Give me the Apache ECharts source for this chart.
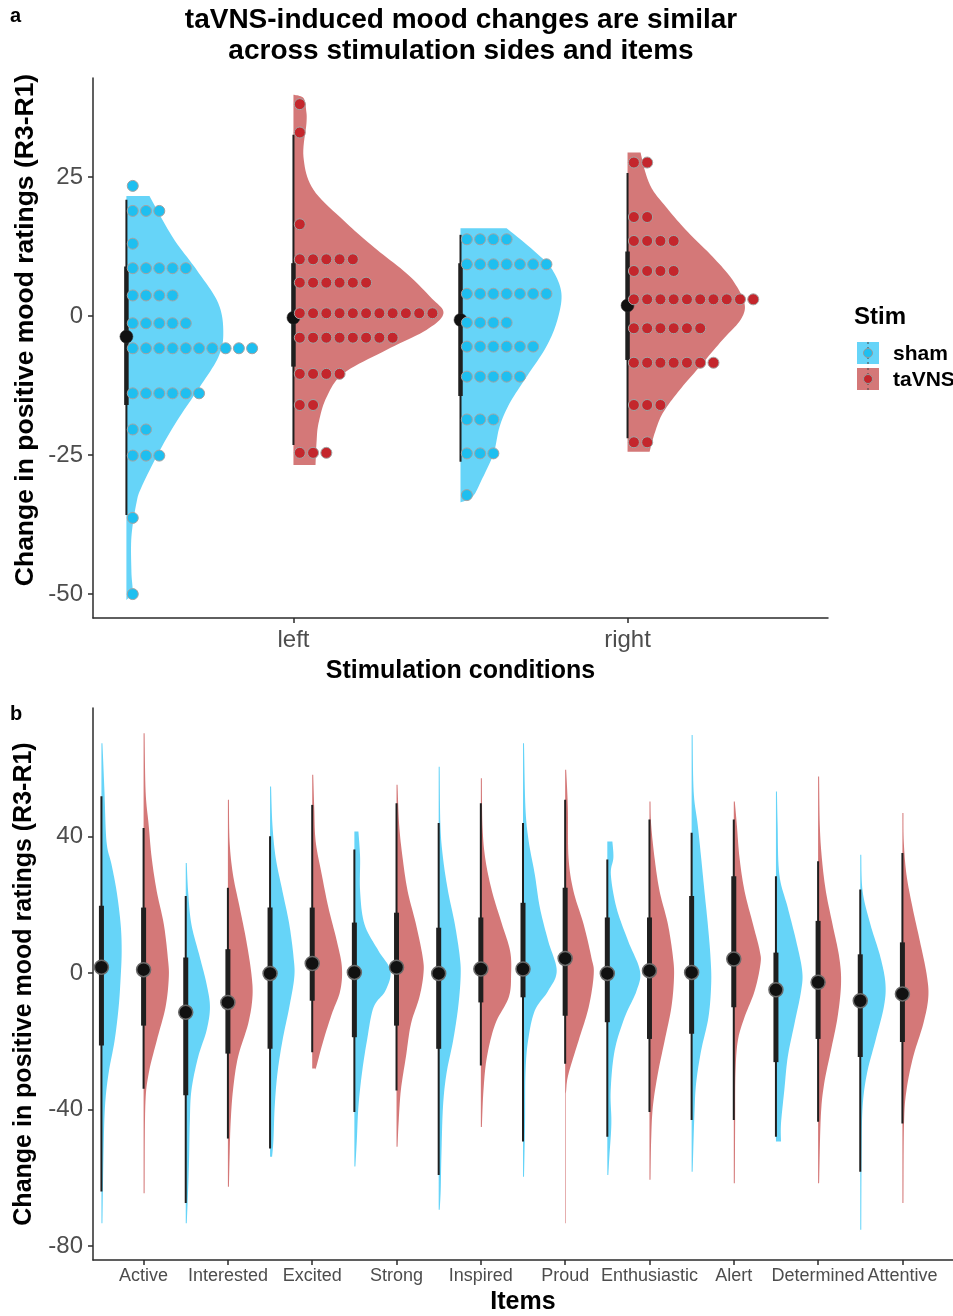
<!DOCTYPE html>
<html><head><meta charset="utf-8">
<script src="https://cdn.jsdelivr.net/npm/echarts@6/dist/echarts.min.js"></script>
<style>html,body{margin:0;padding:0;background:#fff}#c{width:953px;height:1316px}</style>
</head><body><div id="c"></div>
<script>
// ================= DATA =================
// Panel a
const sidesA = ['left', 'right'];
const yTicksA = [-50, -25, 0, 25];
const stimGroups = ['sham', 'taVNS'];

// violin outlines: [rating, half-width in x-axis units]
const violinShamLeft = [[21.6,0.069],[14.2,0.138],[8.3,0.210],[2.3,0.275],[-3.1,0.290],[-7.4,0.275],[-12.8,0.219],[-18.7,0.153],[-24.6,0.096],[-30.8,0.045],[-33.6,0.030],[-39.7,0.015],[-46,0.015],[-49.8,0.018],[-51,0]];
const violinTavnsLeft = [[39.8,0],[39.2,0.030],[37,0.038],[34.7,0.039],[28.6,0.030],[22.7,0.060],[16.7,0.159],[12.4,0.240],[7.7,0.338],[3.4,0.410],[0.5,0.449],[-2.5,0.398],[-6.1,0.278],[-10.3,0.150],[-14.6,0.099],[-19.3,0.075],[-22.8,0.069],[-26.8,0.066]];
const violinShamRight = [[15.8,0.138],[11.3,0.228],[8.3,0.275],[4.1,0.302],[-0.7,0.290],[-5.5,0.257],[-10.9,0.198],[-15.7,0.147],[-19.9,0.117],[-24.7,0.099],[-29.5,0.063],[-32.5,0.036],[-33.5,0]];
const violinTavnsRight = [[29.4,0.039],[25.7,0.054],[22.7,0.075],[19.7,0.114],[15.5,0.174],[10.7,0.254],[6.5,0.314],[2.3,0.350],[-0.7,0.338],[-4.3,0.284],[-9.1,0.216],[-13.3,0.156],[-17.5,0.105],[-21.1,0.081],[-24.4,0.066]];

// dot-plot rows: [rating, number of dots]
const dotsShamLeft = [[23.4,1],[18.9,3],[13.0,1],[8.6,5],[3.7,4],[-1.3,5],[-5.8,10],[-13.9,6],[-20.4,2],[-25.1,3],[-36.3,1],[-50,1]];
const dotsTavnsLeft = [[38.1,1],[33.0,1],[16.5,1],[10.2,5],[6.0,6],[0.5,11],[-3.9,8],[-10.4,4],[-16.0,2],[-24.6,3]];
const dotsShamRight = [[13.8,4],[9.3,7],[4.0,7],[-1.2,4],[-5.5,6],[-10.9,5],[-18.6,3],[-24.7,3],[-32.2,1]];
const dotsTavnsRight = [[27.6,2],[17.8,2],[13.5,4],[8.1,4],[3.0,10],[-2.2,6],[-8.4,7],[-16.0,3],[-22.7,2]];

// summaries: [min, lower, mean, upper, max]
const statsShamA = [[-35.8,-16.0,-3.7,8.9,20.9],[-26.2,-14.4,-0.7,9.5,14.6]];
const statsTavnsA = [[-23.2,-9.1,-0.3,9.5,32.6],[-22.0,-7.9,1.9,11.6,25.7]];

// Panel b
const itemsB = ['Active','Interested','Excited','Strong','Inspired','Proud','Enthusiastic','Alert','Determined','Attentive'];
const yTicksB = [-80, -40, 0, 40];

const shamViolinsB = [
 [[67.4,0.012],[53.2,0.036],[38.6,0.060],[31.8,0.120],[24.0,0.180],[14.3,0.228],[6.5,0.240],[-1.3,0.228],[-10.0,0.204],[-19.8,0.156],[-29.5,0.084],[-39.2,0.042],[-53.7,0.024],[-73.3,0.012]],
 [[32.3,0.012],[24.0,0.028],[14.3,0.067],[4.6,0.168],[-3.2,0.247],[-10.0,0.287],[-16.8,0.247],[-24.6,0.147],[-34.4,0.067],[-44.1,0.048],[-53.8,0.040],[-63.6,0.028],[-73.3,0.012]],
 [[54.7,0.012],[43.5,0.028],[33.8,0.067],[24.0,0.147],[14.3,0.228],[4.6,0.279],[-1.3,0.287],[-10.0,0.228],[-19.8,0.147],[-29.5,0.087],[-39.2,0.055],[-49.0,0.040],[-53.8,0.024]],
 [[41.5,0.048],[33.8,0.068],[24.0,0.068],[14.3,0.120],[6.5,0.287],[0.7,0.428],[-5.2,0.368],[-10.0,0.228],[-19.8,0.149],[-29.5,0.089],[-39.2,0.048],[-49.0,0.029],[-56.7,0.012]],
 [[60.5,0.012],[43.5,0.020],[33.8,0.051],[24.0,0.111],[14.3,0.192],[4.6,0.251],[-1.3,0.260],[-10.0,0.231],[-19.8,0.171],[-29.5,0.092],[-39.2,0.051],[-53.8,0.032],[-63.6,0.024],[-69.4,0.012]],
 [[67.4,0.012],[48.4,0.029],[38.6,0.068],[28.9,0.140],[19.2,0.200],[9.4,0.299],[0.7,0.400],[-5.2,0.299],[-11.0,0.140],[-19.8,0.060],[-29.5,0.029],[-44.1,0.024],[-59.7,0.012]],
 [[38.6,0.060],[33.8,0.072],[28.9,0.042],[19.2,0.108],[9.4,0.247],[0.7,0.387],[-5.2,0.347],[-12.9,0.207],[-22.7,0.087],[-34.4,0.040],[-44.1,0.048],[-53.8,0.024],[-59.2,0.012]],
 [[69.8,0.012],[53.2,0.024],[43.5,0.072],[33.8,0.113],[24.0,0.152],[14.3,0.192],[4.6,0.224],[-3.2,0.232],[-12.9,0.200],[-22.7,0.113],[-32.4,0.053],[-42.1,0.032],[-58.2,0.012]],
 [[53.2,0.012],[43.5,0.020],[28.9,0.040],[19.2,0.140],[9.4,0.240],[0.7,0.311],[-5.2,0.299],[-14.9,0.219],[-24.6,0.140],[-34.4,0.099],[-44.1,0.060],[-49.4,0.060]],
 [[34.7,0.012],[24.0,0.028],[14.3,0.120],[4.6,0.240],[-3.2,0.299],[-10.0,0.279],[-19.8,0.180],[-29.5,0.079],[-39.2,0.028],[-53.8,0.016],[-75.2,0.012]]
];
const tavnsViolinsB = [
 [[70.3,0.012],[53.2,0.024],[43.5,0.060],[33.8,0.096],[24.0,0.156],[14.3,0.240],[4.6,0.287],[-1.3,0.299],[-10.0,0.260],[-19.8,0.156],[-29.5,0.060],[-39.2,0.020],[-64.5,0.012]],
 [[50.8,0.012],[38.6,0.020],[28.9,0.060],[19.2,0.140],[9.4,0.219],[-0.3,0.279],[-7.1,0.291],[-14.9,0.240],[-24.6,0.120],[-34.4,0.060],[-44.1,0.032],[-53.8,0.020],[-62.6,0.012]],
 [[58.1,0.012],[48.4,0.024],[38.6,0.041],[28.9,0.113],[19.2,0.192],[9.4,0.292],[1.7,0.352],[-5.2,0.332],[-12.0,0.232],[-19.8,0.132],[-27.5,0.048],[-28.0,0.036]],
 [[55.2,0.012],[43.5,0.031],[33.8,0.072],[24.0,0.132],[14.3,0.231],[4.6,0.311],[-0.3,0.319],[-7.1,0.271],[-14.9,0.171],[-24.6,0.111],[-34.4,0.051],[-44.1,0.024],[-50.9,0.012]],
 [[57.1,0.012],[43.5,0.019],[33.8,0.051],[24.0,0.132],[14.3,0.251],[6.5,0.347],[-0.3,0.359],[-7.1,0.331],[-14.9,0.171],[-24.6,0.072],[-34.4,0.031],[-45.1,0.012]],
 [[59.6,0.012],[48.4,0.032],[33.8,0.040],[24.0,0.099],[14.3,0.219],[4.6,0.311],[-0.3,0.339],[-10.0,0.279],[-19.8,0.159],[-29.5,0.040],[-34.4,0.012],[-40,0.005],[-73.3,0.005]],
 [[50.3,0.012],[43.5,0.020],[33.8,0.060],[24.0,0.120],[14.3,0.219],[4.6,0.279],[-1.3,0.291],[-10.0,0.260],[-19.8,0.180],[-29.5,0.099],[-39.2,0.040],[-49.0,0.020],[-60.6,0.012]],
 [[50.3,0.012],[43.5,0.036],[33.8,0.068],[24.0,0.128],[14.3,0.228],[6.5,0.308],[2.6,0.316],[-5.2,0.248],[-12.9,0.128],[-19.8,0.048],[-29.5,0.020],[-44.1,0.016],[-61.6,0.012]],
 [[57.6,0.012],[43.5,0.020],[33.8,0.044],[24.0,0.092],[14.3,0.171],[4.6,0.251],[-3.2,0.272],[-12.9,0.231],[-22.7,0.152],[-32.4,0.072],[-42.1,0.032],[-61.6,0.012]],
 [[46.9,0.012],[38.6,0.016],[28.9,0.048],[19.2,0.120],[9.4,0.207],[-0.3,0.287],[-7.1,0.307],[-14.9,0.247],[-24.6,0.127],[-34.4,0.048],[-44.1,0.019],[-67.4,0.012]]
];
const statsShamB = [[-64.0,-21.2,1.7,19.7,51.8],[-67.4,-35.8,-11.5,4.6,22.6],[-51.4,-22.2,-0.1,19.2,40.1],[-40.7,-18.8,0.2,14.8,36.2],[-59.2,-22.2,-0.1,13.3,44.0],[-49.4,-7.1,1.2,20.6,44.0],[-48.0,-14.4,-0.1,16.3,33.3],[-43.1,-17.8,0.2,22.6,41.1],[-48.0,-26.1,-4.9,6.0,28.4],[-58.2,-24.6,-8.1,5.5,24.5]];
const statsTavnsB = [[-33.9,-15.4,1.0,19.2,42.5],[-48.5,-23.6,-8.6,7.0,25.0],[-23.2,-8.1,2.8,19.2,49.3],[-34.4,-15.4,1.7,17.7,49.8],[-27.1,-8.6,1.2,16.3,49.8],[-26.6,-12.5,4.3,25.0,50.8],[-40.7,-19.3,0.7,16.3,45.0],[-43.1,-10.0,4.1,28.4,45.0],[-43.6,-19.3,-2.7,15.3,32.8],[-44.1,-20.2,-6.1,9.0,35.2]];

// ================= STYLE =================
const FONT = '"Liberation Sans", Arial, sans-serif';
const COL = {
  sham: { violin: '#66d4f8', dot: '#1ebff0' },
  taVNS: { violin: '#d47878', dot: '#c4262c' }
};
const AXIS_COL = '#2b2b2b';
const LABEL_COL = '#4d4d4d';
const YTITLE = 'Change in positive mood ratings (R3-R1)';

// ================= HELPERS =================
function catmull(pts, steps) {
  const out = [];
  const n = pts.length;
  for (let i = 0; i < n - 1; i++) {
    const p0 = pts[Math.max(i - 1, 0)], p1 = pts[i], p2 = pts[i + 1], p3 = pts[Math.min(i + 2, n - 1)];
    for (let s = 0; s < steps; s++) {
      const t = s / steps, t2 = t * t, t3 = t2 * t;
      const f = k => 0.5 * ((2 * p1[k]) + (-p0[k] + p2[k]) * t + (2 * p0[k] - 5 * p1[k] + 4 * p2[k] - p3[k]) * t2 + (-p0[k] + 3 * p1[k] - 3 * p2[k] + p3[k]) * t3);
      out.push([f(0), f(1)]);
    }
  }
  out.push(pts[n - 1]);
  return out;
}
function violinRenderer(outlines, color) {
  return function (params, api) {
    const idx = params.dataIndex;
    const cx = api.value(0);
    const ol = outlines[idx];
    const edge = ol.map(([v, w]) => api.coord([cx + w, v]));
    const b0 = api.coord([cx, ol[0][0]]);
    const bN = api.coord([cx, ol[ol.length - 1][0]]);
    const sm = catmull(edge, 10).map(p => [Math.max(p[0], b0[0] + 0.6), p[1]]);
    return { type: 'polygon', shape: { points: [b0].concat(sm, [bN]) }, style: { fill: color, stroke: null } };
  };
}
function rangeRenderer(stats, o) {
  return function (params, api) {
    const idx = params.dataIndex, cx = api.value(0), s = stats[idx];
    const P = v => api.coord([cx, v]);
    const lo = P(s[0]), q1 = P(s[1]), m = P(s[2]), q3 = P(s[3]), hi = P(s[4]);
    return { type: 'group', children: [
      { type: 'line', shape: { x1: lo[0], y1: lo[1], x2: hi[0], y2: hi[1] }, style: { stroke: '#1f1f1f', lineWidth: o.thin } },
      { type: 'line', shape: { x1: q1[0], y1: q1[1], x2: q3[0], y2: q3[1] }, style: { stroke: '#1f1f1f', lineWidth: o.thick } },
      { type: 'circle', shape: { cx: m[0], cy: m[1], r: o.r }, style: { fill: '#111', stroke: o.ring, lineWidth: o.ringW } }
    ]};
  };
}
function dotData(rows, pos) {
  const out = [];
  rows.forEach(([v, n]) => { for (let i = 0; i < n; i++) out.push([pos + 0.019 + i * 0.0397, v]); });
  return out;
}

// positions: sham at k-0.5, taVNS at k
const posShamA = sidesA.map((_, i) => [i + 1 - 0.5, i]);
const posTavnsA = sidesA.map((_, i) => [i + 1, i]);
const posShamB = itemsB.map((_, i) => [i + 1 - 0.5, i]);
const posTavnsB = itemsB.map((_, i) => [i + 1, i]);

const axisLine = { show: true, onZero: false, lineStyle: { color: AXIS_COL, width: 1.5 } };
const axisTick = (vals) => ({ show: true, length: 5, customValues: vals, lineStyle: { color: AXIS_COL, width: 1.5 } });
const titleStyle = { fontSize: 25, fontWeight: 'bold', color: '#000', fontFamily: FONT };

const option = {
  animation: false,
  backgroundColor: '#fff',
  grid: [
    { left: 93, top: 78, width: 735, height: 540 },
    { left: 93, top: 708, width: 860, height: 554 }
  ],
  xAxis: [
    { gridIndex: 0, type: 'value', min: 0.4, max: 2.6, axisLine, axisTick: axisTick([1, 2]),
      splitLine: { show: false },
      axisLabel: { customValues: [1, 2], formatter: v => sidesA[Math.round(v) - 1], fontSize: 24, color: LABEL_COL, fontFamily: FONT, margin: 10 },
      name: 'Stimulation conditions', nameLocation: 'middle', nameGap: 41, nameTextStyle: titleStyle },
    { gridIndex: 1, type: 'value', min: 0.4, max: 10.6, axisLine, axisTick: axisTick(itemsB.map((_, i) => i + 1)),
      splitLine: { show: false },
      axisLabel: { customValues: itemsB.map((_, i) => i + 1), formatter: v => itemsB[Math.round(v) - 1], hideOverlap: false, interval: 0,
        fontSize: 18, color: LABEL_COL, fontFamily: FONT, margin: 7 },
      name: 'Items', nameLocation: 'middle', nameGap: 30, nameTextStyle: titleStyle }
  ],
  yAxis: [
    { gridIndex: 0, type: 'value', min: -54.3, max: 42.8, axisLine, axisTick: axisTick(yTicksA),
      splitLine: { show: false },
      axisLabel: { customValues: yTicksA, fontSize: 24, color: LABEL_COL, fontFamily: FONT, margin: 10 },
      name: '' },
    { gridIndex: 1, type: 'value', min: -84.1, max: 77.7, axisLine, axisTick: axisTick(yTicksB),
      splitLine: { show: false },
      axisLabel: { customValues: yTicksB, fontSize: 24, color: LABEL_COL, fontFamily: FONT, margin: 10 },
      name: YTITLE, nameLocation: 'middle', nameGap: 56, nameTextStyle: titleStyle }
  ],
  series: [
    { type: 'custom', name: 'sham', xAxisIndex: 0, yAxisIndex: 0, data: posShamA, z: 1,
      renderItem: violinRenderer([violinShamLeft, violinShamRight], COL.sham.violin) },
    { type: 'custom', name: 'taVNS', xAxisIndex: 0, yAxisIndex: 0, data: posTavnsA, z: 1,
      renderItem: violinRenderer([violinTavnsLeft, violinTavnsRight], COL.taVNS.violin) },
    { type: 'custom', xAxisIndex: 0, yAxisIndex: 0, data: posShamA, z: 2,
      renderItem: rangeRenderer(statsShamA, { thin: 2, thick: 4.5, r: 6.5, ring: '#333', ringW: 0.5 }) },
    { type: 'custom', xAxisIndex: 0, yAxisIndex: 0, data: posTavnsA, z: 2,
      renderItem: rangeRenderer(statsTavnsA, { thin: 2, thick: 4.5, r: 6.5, ring: '#333', ringW: 0.5 }) },
    { type: 'scatter', xAxisIndex: 0, yAxisIndex: 0, z: 3, symbolSize: 11,
      data: dotData(dotsShamLeft, 0.5).concat(dotData(dotsShamRight, 1.5)),
      itemStyle: { color: COL.sham.dot, borderColor: '#a3a3a3', borderWidth: 1, opacity: 1 } },
    { type: 'scatter', xAxisIndex: 0, yAxisIndex: 0, z: 3, symbolSize: 11,
      data: dotData(dotsTavnsLeft, 1).concat(dotData(dotsTavnsRight, 2)),
      itemStyle: { color: COL.taVNS.dot, borderColor: '#a3a3a3', borderWidth: 1, opacity: 1 } },
    { type: 'custom', xAxisIndex: 1, yAxisIndex: 1, data: posShamB, z: 1,
      renderItem: violinRenderer(shamViolinsB, COL.sham.violin) },
    { type: 'custom', xAxisIndex: 1, yAxisIndex: 1, data: posTavnsB, z: 1,
      renderItem: violinRenderer(tavnsViolinsB, COL.taVNS.violin) },
    { type: 'custom', xAxisIndex: 1, yAxisIndex: 1, data: posShamB, z: 2,
      renderItem: rangeRenderer(statsShamB, { thin: 2, thick: 5, r: 7, ring: '#6a6a6a', ringW: 1.5 }) },
    { type: 'custom', xAxisIndex: 1, yAxisIndex: 1, data: posTavnsB, z: 2,
      renderItem: rangeRenderer(statsTavnsB, { thin: 2, thick: 5, r: 7, ring: '#6a6a6a', ringW: 1.5 }) }
  ],
  graphic: [
    { type: 'text', x: 10, y: 6, style: { text: 'a', fontSize: 20, fontWeight: 'bold', fontFamily: FONT, fill: '#000' } },
    { type: 'text', x: 10, y: 704, style: { text: 'b', fontSize: 20, fontWeight: 'bold', fontFamily: FONT, fill: '#000' } },
    { type: 'text', x: 461, y: 5, style: { text: 'taVNS-induced mood changes are similar\nacross stimulation sides and items', align: 'center', fontSize: 28, lineHeight: 31, fontWeight: 'bold', fontFamily: FONT, fill: '#000' } },
    // panel a y-axis title
    { type: 'text', x: 26, y: 330, rotation: Math.PI / 2, style: { text: YTITLE, align: 'center', verticalAlign: 'middle', fontSize: 26.5, fontWeight: 'bold', fontFamily: FONT, fill: '#000' } },
    // legend
    { type: 'text', x: 854, y: 317, style: { text: 'Stim', fontSize: 24, fontWeight: 'bold', fontFamily: FONT, fill: '#000', verticalAlign: 'middle' } },
    { type: 'rect', shape: { x: 857, y: 342, width: 22, height: 22 }, style: { fill: COL.sham.violin } },
    { type: 'line', shape: { x1: 868, y1: 342, x2: 868, y2: 364 }, style: { stroke: '#444', lineWidth: 1, lineDash: [2, 3] } },
    { type: 'circle', shape: { cx: 868, cy: 353, r: 4.5 }, style: { fill: COL.sham.dot, stroke: '#999', lineWidth: 1 } },
    { type: 'text', x: 893, y: 354, style: { text: stimGroups[0], fontSize: 21, fontWeight: 'bold', fontFamily: FONT, fill: '#000', verticalAlign: 'middle' } },
    { type: 'rect', shape: { x: 857, y: 368, width: 22, height: 22 }, style: { fill: COL.taVNS.violin } },
    { type: 'line', shape: { x1: 868, y1: 368, x2: 868, y2: 390 }, style: { stroke: '#444', lineWidth: 1, lineDash: [2, 3] } },
    { type: 'circle', shape: { cx: 868, cy: 379, r: 4.5 }, style: { fill: COL.taVNS.dot, stroke: '#999', lineWidth: 1 } },
    { type: 'text', x: 893, y: 380, style: { text: stimGroups[1], fontSize: 21, fontWeight: 'bold', fontFamily: FONT, fill: '#000', verticalAlign: 'middle' } }
  ]
};
const chart = echarts.init(document.getElementById('c'), null, { renderer: 'canvas' });
chart.setOption(option);
</script></body></html>
